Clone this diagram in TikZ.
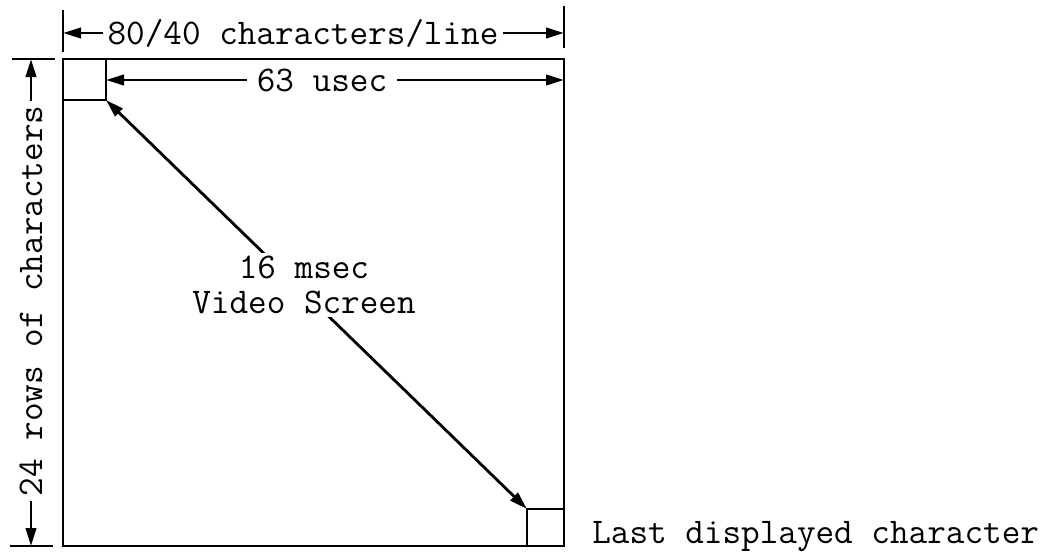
\documentclass[tikz,border=0pt]{standalone}
\usepackage{fontspec}
\usepackage{tikz}
\usetikzlibrary{arrows.meta,calc}

\tikzset{dimtip/.tip={Triangle[length=0.45cm,width=0.26cm]}}

\begin{document}
\begin{tikzpicture}[x=0.025cm,y=-0.025cm,
  frame/.style={line width=2pt},
  dim/.style={line width=2pt,-dimtip},
  dimboth/.style={line width=2pt,dimtip-dimtip},
  lbl/.style={font=\ttfamily\fontsize{25.7}{25}\selectfont,inner sep=0.1cm},
]
  \useasboundingbox (0,0) rectangle (1062,552);
  % screen outline and the two character cells
  \coordinate (tl) at (63,59);
  \coordinate (br) at (564,546);
  \coordinate (c1) at (106,100);
  \coordinate (c2) at (527,509);
  \draw[frame] (tl) rectangle (br);
  \draw[frame] (tl) rectangle (c1);
  \draw[frame] (c2) rectangle (br);
  % width of a line
  \draw[frame] (63,10) -- (63,52);
  \draw[frame] (564,6) -- (564,48);
  \node[lbl] (cpl) at (303,33) {80/40 characters/line};
  \draw[dim] (cpl.west) -- (cpl.west -| tl);
  \draw[dim] (cpl.east) -- (cpl.east -| br);
  % height of the screen
  \draw[frame] (12,59) -- (55,59);
  \draw[frame] (10,546) -- (53,546);
  \node[lbl,rotate=90] (rows) at (31,301) {24 rows of characters};
  \draw[dim] (rows.east) -- (rows.east |- tl);
  \draw[dim] (rows.west) -- (rows.west |- br);
  % one line time
  \node[lbl,inner xsep=0.25cm] (usec) at (322,80) {63 usec};
  \draw[dim] (usec.west) -- (usec.west -| c1);
  \draw[dim] (usec.east) -- (usec.east -| br);
  % one frame time
  \draw[dimboth] (c1) -- (c2);
  \node[lbl,fill=white,align=center,inner sep=2pt] (vs) at (304,285) {16 msec\\Video Screen};
  \node[lbl,anchor=base west] (last) at (588,543) {Last displayed character};
\end{tikzpicture}
\end{document}
